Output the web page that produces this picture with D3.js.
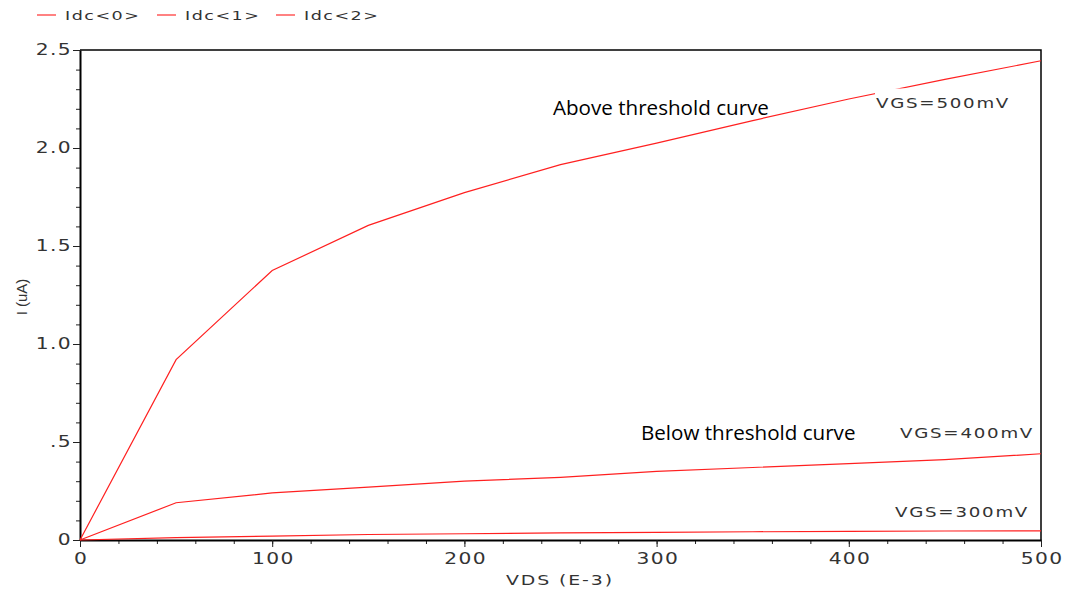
<!DOCTYPE html>
<meta charset="utf-8">
<style>
  body { margin: 0; background: #fff; }
  text { font-family: "DejaVu Sans", sans-serif; }
  .tick text { fill: #333; font-size: 15px; letter-spacing: 1px; }
</style>
<script src="https://d3js.org/d3.v7.min.js"></script>
<div id="chart"></div>
<script>
// data: VDS in mV, current in uA
var vds = [0, 50, 100, 150, 200, 250, 300, 350, 400, 450, 500];
var idc500 = [0, 0.92, 1.375, 1.605, 1.772, 1.915, 2.025, 2.14, 2.25, 2.35, 2.445];
var idc400 = [0, 0.19, 0.24, 0.27, 0.30, 0.32, 0.35, 0.37, 0.39, 0.41, 0.44];
var idc300 = [0, 0.012, 0.02, 0.028, 0.032, 0.036, 0.039, 0.042, 0.044, 0.046, 0.047];
var seriesNames = ["Idc<0>", "Idc<1>", "Idc<2>"];
var yTickLabels = ["0", ".5", "1.0", "1.5", "2.0", "2.5"];

var W = 1067, H = 592;
var margin = {top: 50, right: 26, bottom: 52, left: 80};
var width = W - margin.left - margin.right,
    height = H - margin.top - margin.bottom;
var stretch = 1.35; // the plotter font looks widened

var svg = d3.select("#chart").append("svg")
    .attr("width", W).attr("height", H);

var g = svg.append("g")
    .attr("transform", "translate(" + margin.left + "," + margin.top + ")");

var x = d3.scaleLinear().domain([0, 500]).range([0, width]);
var y = d3.scaleLinear().domain([0, 2.5]).range([height, 0]);

// wide text placed at (px,py)
function wideText(parent, px, py, str, size, spacing, anchor) {
  return parent.append("text")
    .attr("transform", "translate(" + px + "," + py + ") scale(" + stretch + ",1)")
    .attr("text-anchor", anchor || "start")
    .attr("fill", "#333")
    .style("font-size", size + "px")
    .style("letter-spacing", spacing + "px")
    .text(str);
}

// frame top + right
g.append("path")
    .attr("d", "M0,0H" + width + "V" + height)
    .attr("fill", "none").attr("stroke", "#000").attr("stroke-width", 1.5);

// minor ticks
g.append("g")
    .attr("transform", "translate(0," + height + ")")
    .call(d3.axisBottom(x).tickValues(d3.range(0, 501, 20)).tickSize(4).tickFormat(""))
    .call(function(s) { s.select(".domain").remove(); });
g.append("g")
    .call(d3.axisLeft(y).tickValues(d3.range(0, 2.51, 0.1)).tickSize(4).tickFormat(""))
    .call(function(s) { s.select(".domain").remove(); });

// major axes
var xAxis = g.append("g")
    .attr("transform", "translate(0," + height + ")")
    .call(d3.axisBottom(x).tickValues([0, 100, 200, 300, 400, 500]).tickSize(7).tickSizeOuter(0).tickPadding(6));
xAxis.selectAll(".tick text")
    .attr("transform", "scale(" + stretch + ",1)")
    .attr("dx", "0.5px");
var yAxis = g.append("g")
    .call(d3.axisLeft(y).tickValues([0, 0.5, 1, 1.5, 2, 2.5]).tickSize(7).tickSizeOuter(0)
      .tickFormat(function(d, i) { return yTickLabels[i]; }));
yAxis.selectAll(".tick text")
    .attr("transform", "scale(" + stretch + ",1)")
    .attr("x", -8 / stretch);
g.selectAll(".domain").attr("stroke-width", 2);
g.selectAll(".tick line").attr("stroke", "#222");
g.selectAll(".tick text").attr("fill", "#333");

// axis titles
wideText(svg, 560, 585, "VDS (E-3)", 14, 1.4, "middle");
svg.append("text")
    .attr("transform", "translate(27,297)rotate(-90)")
    .attr("text-anchor", "middle")
    .attr("fill", "#333").style("font-size", "15px").style("font-family", "Liberation Sans, sans-serif")
    .text("I (uA)");

// curves
var line = d3.line()
    .x(function(d) { return x(d[0]); })
    .y(function(d) { return y(d[1]); });
var series = [idc500, idc400, idc300];
series.forEach(function(s) {
  g.append("path")
    .datum(vds.map(function(v, i) { return [v, s[i]]; }))
    .attr("fill", "none")
    .attr("stroke", "#ff2020")
    .attr("stroke-width", 1.2)
    .attr("d", line);
});

// curve labels
var vgsLabels = [
  {t: "VGS=500mV", x: 876, y: 108, bg: true},
  {t: "VGS=400mV", x: 900, y: 438},
  {t: "VGS=300mV", x: 895, y: 517}
];
vgsLabels.forEach(function(l) {
  if (l.bg) {
    svg.append("rect")
      .attr("x", l.x - 1).attr("y", l.y - 19.5)
      .attr("width", 150).attr("height", 24)
      .attr("fill", "#fff");
  }
  wideText(svg, l.x, l.y, l.t, 13.5, 1.3);
});

svg.append("text")
    .attr("x", 553).attr("y", 115)
    .attr("fill", "#000")
    .style("font-family", "Open Sans, sans-serif").style("font-size", "20.6px")
    .text("Above threshold curve");
svg.append("text")
    .attr("x", 641).attr("y", 440)
    .attr("fill", "#000")
    .style("font-family", "Open Sans, sans-serif").style("font-size", "20.6px")
    .text("Below threshold curve");

// legend
var legendX = [37, 157, 276];
seriesNames.forEach(function(n, i) {
  svg.append("line")
    .attr("x1", legendX[i]).attr("x2", legendX[i] + 19)
    .attr("y1", 15).attr("y2", 15)
    .attr("stroke", "#ff3030").attr("stroke-width", 1.2);
  wideText(svg, legendX[i] + 28, 20, n, 13, 1.1);
});
</script>
